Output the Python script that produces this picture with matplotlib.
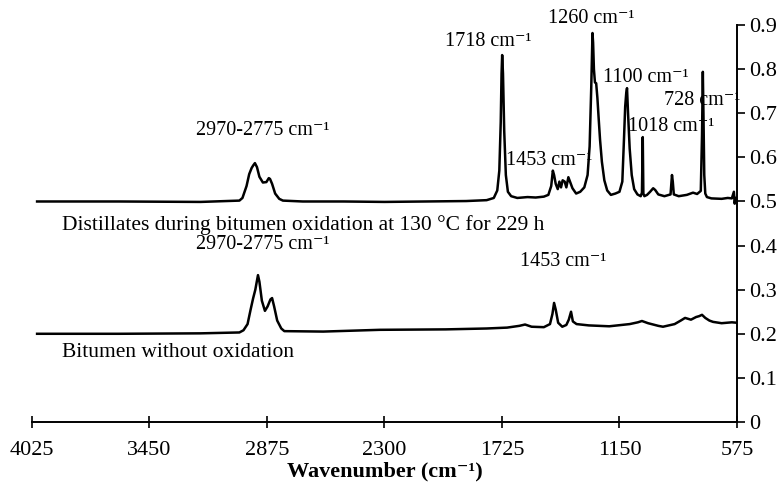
import matplotlib
matplotlib.use('Agg')
import matplotlib.pyplot as plt

plt.rcParams['font.family'] = ['Liberation Serif', 'DejaVu Serif']

# distillates collected during oxidation (130 C, 229 h)
wn_dist = [4000, 3600, 3200, 3010, 2995, 2975, 2962, 2950, 2942, 2934, 2924,
           2912, 2895, 2878, 2866, 2860, 2850, 2835, 2815, 2797, 2700, 2500,
           2300, 2100, 1900, 1800, 1765, 1748, 1738, 1731, 1727, 1724, 1720,
           1714, 1706, 1696, 1680, 1650, 1600, 1560, 1520, 1498, 1484, 1476,
           1470, 1462, 1452, 1444, 1436, 1428, 1418, 1410, 1400, 1392, 1380,
           1362, 1342, 1322, 1306, 1296, 1288, 1282, 1279, 1275, 1270, 1264,
           1258, 1252, 1245, 1236, 1224, 1210, 1192, 1170, 1150, 1136, 1128,
           1122, 1117, 1113, 1108, 1100, 1090, 1078, 1062, 1046, 1040, 1036,
           1033, 1028, 1015, 1000, 985, 975, 960, 930, 900, 893, 889, 884,
           860, 820, 790, 770, 752, 746, 742, 739, 735, 730, 722, 700, 650,
           620, 600, 590, 586, 582, 575]
abs_dist = [0.500, 0.500, 0.499, 0.502, 0.508, 0.535, 0.562, 0.576, 0.582,
            0.587, 0.578, 0.556, 0.543, 0.544, 0.553, 0.551, 0.540, 0.518,
            0.506, 0.502, 0.500, 0.500, 0.499, 0.500, 0.501, 0.503, 0.508,
            0.525, 0.570, 0.680, 0.790, 0.832, 0.790, 0.660, 0.560, 0.522,
            0.512, 0.508, 0.510, 0.509, 0.511, 0.515, 0.535, 0.570, 0.560,
            0.540, 0.528, 0.545, 0.532, 0.548, 0.545, 0.532, 0.555, 0.545,
            0.530, 0.518, 0.522, 0.532, 0.560, 0.625, 0.760, 0.882, 0.860,
            0.800, 0.770, 0.768, 0.735, 0.690, 0.640, 0.590, 0.548, 0.525,
            0.515, 0.518, 0.522, 0.545, 0.640, 0.715, 0.745, 0.757, 0.700,
            0.620, 0.560, 0.528, 0.516, 0.512, 0.520, 0.646, 0.518, 0.512,
            0.515, 0.522, 0.530, 0.526, 0.516, 0.512, 0.516, 0.560, 0.545,
            0.516, 0.512, 0.515, 0.520, 0.517, 0.524, 0.650, 0.794, 0.700,
            0.560, 0.518, 0.510, 0.507, 0.506, 0.508, 0.507, 0.522, 0.495,
            0.508, 0.507]

# bitumen before oxidation
wn_bit = [4000, 3600, 3200, 3010, 2990, 2970, 2955, 2943, 2932, 2925, 2919,
          2912, 2900, 2885, 2872, 2858, 2850, 2840, 2825, 2805, 2790, 2600,
          2322, 2000, 1800, 1700, 1640, 1612, 1580, 1520, 1490, 1478, 1470,
          1462, 1450, 1430, 1410, 1398, 1387, 1378, 1360, 1300, 1200, 1100,
          1060, 1040, 1010, 960, 937, 880, 850, 829, 800, 775, 760, 746, 730,
          710, 692, 650, 600, 575]
abs_bit = [0.200, 0.200, 0.201, 0.203, 0.208, 0.222, 0.255, 0.280, 0.300,
           0.318, 0.333, 0.318, 0.275, 0.252, 0.262, 0.278, 0.281, 0.262,
           0.230, 0.212, 0.206, 0.205, 0.209, 0.210, 0.212, 0.214, 0.218,
           0.221, 0.216, 0.215, 0.222, 0.245, 0.270, 0.255, 0.225, 0.216,
           0.220, 0.232, 0.250, 0.228, 0.222, 0.219, 0.217, 0.222, 0.226,
           0.229, 0.224, 0.218, 0.216, 0.222, 0.230, 0.236, 0.232, 0.238,
           0.240, 0.243, 0.236, 0.230, 0.227, 0.224, 0.226, 0.225]

CM = 'cm\u207b\u00b9'

# peak annotations: (text, wavenumber at left edge, height)
peak_labels = [
    ('2970-2775 ' + CM, 3222, 0.660),
    ('1718 ' + CM, 2004, 0.862),
    ('1260 ' + CM, 1500, 0.916),
    ('1100 ' + CM, 1230, 0.782),
    ('1018 ' + CM, 1108, 0.669),
    ('728 ' + CM, 932, 0.730),
    ('1453 ' + CM, 1705, 0.594),
    ('2970-2775 ' + CM, 3222, 0.403),
    ('1453 ' + CM, 1637, 0.363),
]
series_labels = [
    ('Distillates during bitumen oxidation at 130 \u00b0C for 229 h', 3878, 0.447),
    ('Bitumen without oxidation', 3878, 0.157),
]

x_ticks = [4025, 3450, 2875, 2300, 1725, 1150, 575]
y_ticks = [0, 0.1, 0.2, 0.3, 0.4, 0.5, 0.6, 0.7, 0.8, 0.9]
y_ticklabels = ['0', '0.1', '0.2', '0.3', '0.4', '0.5', '0.6', '0.7', '0.8', '0.9']

fig = plt.figure(figsize=(7.82, 4.87), dpi=100)
ax = fig.add_axes([0.0409, 0.1335, 0.9015, 0.815])

ax.plot(wn_dist, abs_dist, color='black', lw=1.8)
ax.plot(wn_bit, abs_bit, color='black', lw=1.8)

for txt, x, y in peak_labels:
    ax.text(x, y, txt, ha='left', va='center', fontsize=14.5)
for txt, x, y in series_labels:
    ax.text(x, y, txt, ha='left', va='center', fontsize=15.5)

ax.set_xlim(4025, 575)
ax.set_ylim(0, 0.9)
ax.set_xticks(x_ticks)
ax.set_xticklabels([str(t) for t in x_ticks], fontsize=16)
ax.set_yticks(y_ticks)
ax.set_yticklabels(y_ticklabels, fontsize=16)

ax.spines['left'].set_visible(False)
ax.spines['top'].set_visible(False)
ax.spines['right'].set_linewidth(1.4)
ax.spines['bottom'].set_linewidth(1.4)
ax.yaxis.tick_right()
ax.tick_params(axis='y', direction='out', length=6, width=1.2, pad=3)
ax.tick_params(axis='x', direction='inout', length=8, width=1.2, pad=10)

ax.set_xlabel('Wavenumber (' + CM + ')', fontsize=16,
              fontweight='bold', labelpad=1)

fig.savefig('out.png', dpi=100)
